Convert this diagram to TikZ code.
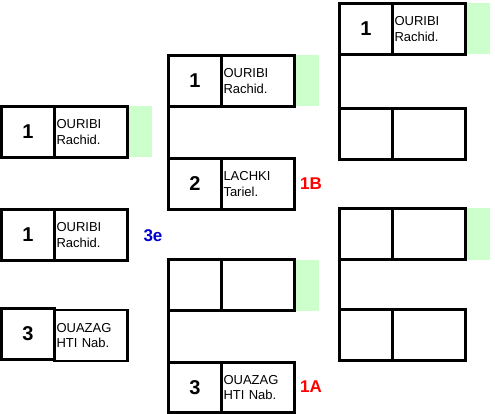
\documentclass[tikz,border=0pt]{standalone}
\usepackage{fontspec}
\setmainfont{Liberation Sans}
\usetikzlibrary{backgrounds}
\definecolor{lightgreen}{RGB}{204,255,204}
\definecolor{tagred}{RGB}{255,0,0}
\definecolor{tagblue}{RGB}{0,0,204}
\begin{document}
\begin{tikzpicture}[x=1pt,y=-1pt,
  numbox/.style={draw, line width=3pt, outer sep=0pt, inner sep=0pt, minimum width=53pt, minimum height=51pt, anchor=north west, font=\fontsize{20}{20}\selectfont\bfseries},
  namebox/.style={draw, line width=2.2pt, outer sep=0pt, inner xsep=2pt, inner ysep=0pt, text width=69pt, minimum height=51pt, align=left, anchor=north west, font=\fontsize{13}{15.5}\selectfont},
  greenbox/.style={fill=lightgreen, outer sep=0pt, inner sep=0pt, minimum width=24.5pt, minimum height=51pt, anchor=north west},
  conn/.style={line width=3pt},
  tag/.style={font=\fontsize{17}{17}\selectfont\bfseries}]
\useasboundingbox (0,0) rectangle (495,414);

% left column
\node[numbox] (L1n) at (1.5,106.5) {1};
\node[namebox] (L1t) at (L1n.north east) {OURIBI\\Rachid.};
\node[numbox] (L2n) at (1.5,209.5) {1};
\node[namebox] (L2t) at (L2n.north east) {OURIBI\\Rachid.};
\node[numbox] (L3n) at (1.5,308.5) {3};
\node[namebox] (L3t) at ([yshift=-1.5pt]L3n.north east) {OUAZAG\\HTI Nab.};

% middle column
\node[numbox] (M1n) at (168.5,55.5) {1};
\node[namebox] (M1t) at (M1n.north east) {OURIBI\\Rachid.};
\node[numbox] (M2n) at (168.5,158.5) {2};
\node[namebox] (M2t) at (M2n.north east) {LACHKI\\Tariel.};
\node[numbox] (M3n) at (168.5,259.5) {};
\node[namebox] (M3t) at (M3n.north east) {};
\node[numbox, minimum height=50pt] (M4n) at (168.5,362.5) {3};
\node[namebox, minimum height=50pt] (M4t) at (M4n.north east) {OUAZAG\\HTI Nab.};

% right column
\node[numbox] (R1n) at (339.5,3.5) {1};
\node[namebox] (R1t) at (R1n.north east) {OURIBI\\Rachid.};
\node[numbox] (R2n) at (339.5,108.5) {};
\node[namebox] (R2t) at (R2n.north east) {};
\node[numbox] (R3n) at (339.5,208.5) {};
\node[namebox] (R3t) at (R3n.north east) {};
\node[numbox] (R4n) at (339.5,309.5) {};
\node[namebox] (R4t) at (R4n.north east) {};

% white page and green result cells
\begin{pgfonlayer}{background}
\fill[white] (0,0) rectangle (495,414);
\node[greenbox] (L1g) at (L1t.north east) {};
\node[greenbox] (M1g) at (M1t.north east) {};
\node[greenbox] (M3g) at (M3t.north east) {};
\node[greenbox] (R1g) at (R1t.north east) {};
\node[greenbox] (R3g) at (R3t.north east) {};
\end{pgfonlayer}

% connectors
\draw[conn] (M1n.south west) -- (M2n.north west);
\draw[conn] (M3n.south west) -- (M4n.north west);
\draw[conn] (R1n.south west) -- (R2n.north west);
\draw[conn] (R3n.south west) -- (R4n.north west);

% tags
\node[tag, text=tagred] (t1B) at (311,184) {1B};
\node[tag, text=tagred] (t1A) at (311,387) {1A};
\node[tag, text=tagblue] (t3e) at (153,236) {3e};
\end{tikzpicture}
\end{document}
